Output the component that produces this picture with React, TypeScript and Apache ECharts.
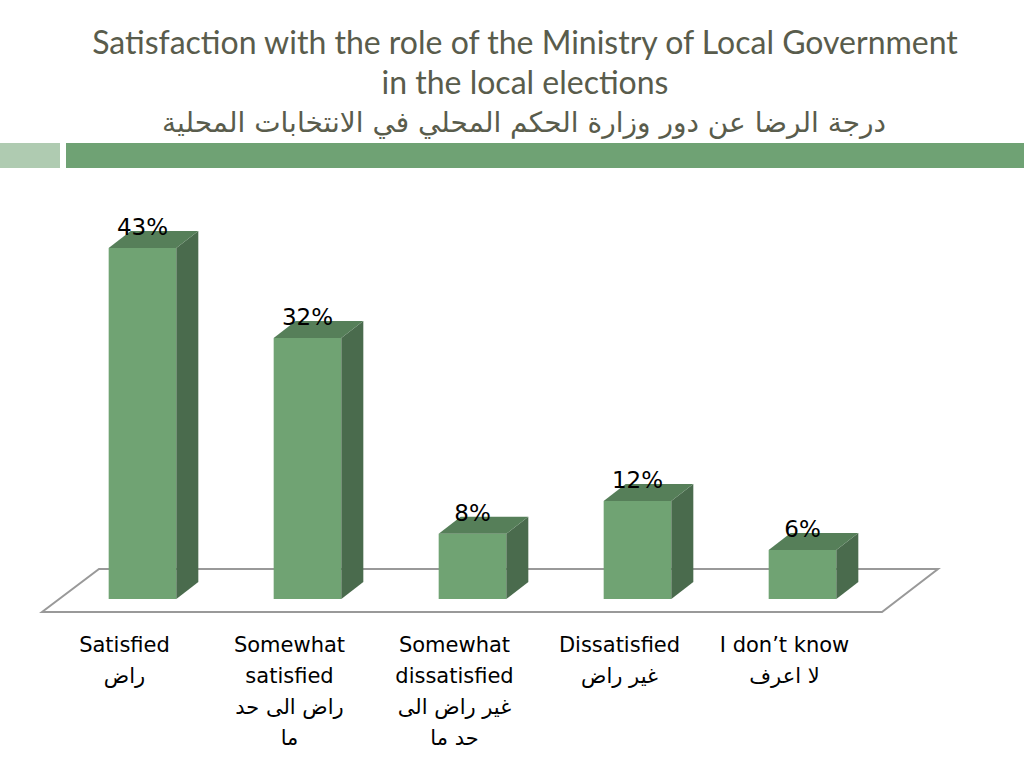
import React, { useEffect, useRef } from "react";
import * as echarts from "echarts";

const titleLines = [
  "Satisfaction with the role of the Ministry of Local Government",
  "in the local elections",
  "درجة الرضا عن دور وزارة الحكم المحلي في الانتخابات المحلية",
];

const categories = [
  "Satisfied\nراض",
  "Somewhat\nsatisfied\nراض الى حد\nما",
  "Somewhat\ndissatisfied\nغير راض الى\nحد ما",
  "Dissatisfied\nغير راض",
  "I don’t know\nلا اعرف",
];

const values = [43, 32, 8, 12, 6];

const FRONT = "#70a373";
const TOP = "#567f59";
const SIDE = "#4a6b4d";
const LATIN = "Lato, 'DejaVu Sans', sans-serif";
const WIDE = "'DejaVu Sans', sans-serif";

export default function App() {
  const ref = useRef<HTMLDivElement>(null);
  useEffect(() => {
    if (!ref.current) return;
    const chart = echarts.init(ref.current, null, { renderer: "svg" });
    const dx = 22;
    const dy = 17;
    chart.setOption({
      animation: false,
      backgroundColor: "#ffffff",
      grid: { left: 60, right: 139, top: 191, bottom: 169 },
      xAxis: {
        type: "category",
        data: categories,
        axisLine: { show: false },
        axisTick: { show: false },
        axisLabel: {
          interval: 0,
          margin: 30,
          fontSize: 21,
          lineHeight: 31,
          color: "#000000",
          fontFamily: WIDE,
          align: "center",
          verticalAlign: "top",
          padding: [0, 36, 0, 0],
        },
      },
      yAxis: {
        type: "value",
        min: 0,
        max: 50,
        show: false,
        splitLine: { show: false },
      },
      graphic: [
        {
          type: "rect",
          shape: { x: 0, y: 143, width: 60, height: 25 },
          style: { fill: "#afcbb1" },
        },
        {
          type: "rect",
          shape: { x: 66, y: 143, width: 958, height: 25 },
          style: { fill: "#6fa274" },
        },
        {
          type: "polygon",
          shape: {
            points: [
              [42, 612],
              [99, 569],
              [938, 569],
              [882, 612],
            ],
          },
          style: { fill: "none", stroke: "#999999", lineWidth: 2 },
          z: 0,
        },
        {
          type: "text",
          x: 525,
          y: 41,
          style: {
            text: titleLines[0],
            fill: "#595c4c",
            font: `32px ${LATIN}`,
            align: "center",
            verticalAlign: "middle",
          },
        },
        {
          type: "text",
          x: 525,
          y: 81,
          style: {
            text: titleLines[1],
            fill: "#595c4c",
            font: `32px ${LATIN}`,
            align: "center",
            verticalAlign: "middle",
          },
        },
        {
          type: "text",
          x: 524,
          y: 122,
          style: {
            text: titleLines[2],
            fill: "#595c4c",
            font: `28px ${WIDE}`,
            align: "center",
            verticalAlign: "middle",
          },
        },
      ],
      series: [
        {
          type: "custom",
          z: 5,
          data: values.map((v, i) => [i, v]),
          encode: { x: 0, y: 1 },
          renderItem: (params: any, api: any) => {
            const idx = api.value(0);
            const v = api.value(1);
            const top = api.coord([idx, v]);
            const base = api.coord([idx, 0]);
            const band = api.size([1, 0])[0];
            const w = band * 0.41;
            const x0 = top[0] - w / 2;
            const x1 = x0 + w;
            const yt = top[1];
            const yb = base[1];
            return {
              type: "group",
              children: [
                {
                  type: "rect",
                  shape: { x: x0, y: yt, width: w, height: yb - yt },
                  style: { fill: FRONT },
                },
                {
                  type: "polygon",
                  shape: {
                    points: [
                      [x1, yt],
                      [x1 + dx, yt - dy],
                      [x1 + dx, yb - dy],
                      [x1, yb],
                    ],
                  },
                  style: { fill: SIDE },
                },
                {
                  type: "polygon",
                  shape: {
                    points: [
                      [x0, yt],
                      [x0 + dx, yt - dy],
                      [x1 + dx, yt - dy],
                      [x1, yt],
                    ],
                  },
                  style: { fill: TOP },
                },
                {
                  type: "text",
                  x: top[0],
                  y: yt - 21,
                  style: {
                    text: v + "%",
                    fill: "#000000",
                    font: `23px ${WIDE}`,
                    align: "center",
                    verticalAlign: "middle",
                  },
                  z2: 10,
                },
              ],
            };
          },
        },
      ],
    });
    return () => chart.dispose();
  }, []);
  return (
    <div
      ref={ref}
      style={{ position: "fixed", left: 0, top: 0, width: 1024, height: 768 }}
    />
  );
}
